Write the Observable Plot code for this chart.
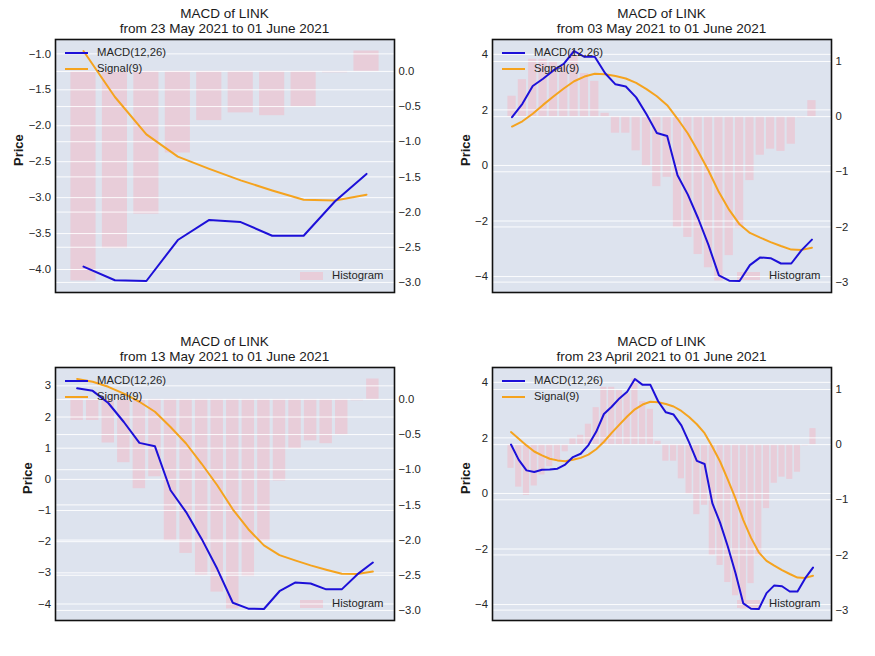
<!DOCTYPE html>
<html><head><meta charset="utf-8">
<script src="https://cdn.jsdelivr.net/npm/d3@7"></script>
<script src="https://cdn.jsdelivr.net/npm/@observablehq/plot@0.6"></script>
<style>
body{margin:0;background:#fff;font-family:"Liberation Sans",Arial,sans-serif;}
#root{position:relative;width:875px;height:656px;overflow:hidden;}
.layer{position:absolute;}
.title{position:absolute;width:339px;text-align:center;font-size:13.5px;line-height:15px;color:#1a1a1a;}
.lg{position:absolute;font-size:11.3px;line-height:13px;color:#262626;white-space:nowrap;}
.sw{position:absolute;}
</style></head><body><div id="root"></div>
<script>
const dates = ["2021-04-23","2021-04-24","2021-04-25","2021-04-26","2021-04-27","2021-04-28","2021-04-29","2021-04-30",
  "2021-05-01","2021-05-02","2021-05-03","2021-05-04","2021-05-05","2021-05-06","2021-05-07","2021-05-08","2021-05-09",
  "2021-05-10","2021-05-11","2021-05-12","2021-05-13","2021-05-14","2021-05-15","2021-05-16","2021-05-17","2021-05-18",
  "2021-05-19","2021-05-20","2021-05-21","2021-05-22","2021-05-23","2021-05-24","2021-05-25","2021-05-26","2021-05-27",
  "2021-05-28","2021-05-29","2021-05-30","2021-05-31","2021-06-01"];
const macd = [1.76,1.21,0.83,0.77,0.85,0.86,0.89,1.04,1.31,1.43,
  1.74,2.22,2.86,3.12,3.42,3.66,4.12,3.91,3.91,3.32,
  2.92,2.84,2.45,1.84,1.17,1.06,-0.35,-1.05,-1.91,-2.87,
  -3.96,-4.15,-4.16,-3.59,-3.31,-3.34,-3.53,-3.53,-3.05,-2.67];
const signal = [2.21,1.97,1.73,1.51,1.37,1.25,1.19,1.16,1.21,1.28,
  1.40,1.59,1.86,2.18,2.48,2.77,3.03,3.20,3.30,3.28,
  3.22,3.13,2.97,2.75,2.49,2.17,1.68,1.15,0.50,-0.19,
  -0.96,-1.60,-2.12,-2.43,-2.60,-2.76,-2.90,-3.03,-3.04,-2.96];
const hist = [-0.43,-0.77,-0.92,-0.75,-0.55,-0.40,-0.29,-0.13,0.11,0.17,
  0.37,0.67,1.04,1.04,0.98,0.92,1.19,0.78,0.64,0.06,
  -0.30,-0.30,-0.62,-0.90,-1.27,-1.10,-2.01,-2.19,-2.50,-2.74,
  -2.98,-2.52,-2.03,-1.16,-0.70,-0.59,-0.63,-0.50,-0.02,0.29];

const panelStarts = ["2021-05-23","2021-05-03","2021-05-13","2021-04-23"];
const panelSubtitles = ["from 23 May 2021 to 01 June 2021","from 03 May 2021 to 01 June 2021",
  "from 13 May 2021 to 01 June 2021","from 23 April 2021 to 01 June 2021"];
const leftTicks = [[-1,-1.5,-2,-2.5,-3,-3.5,-4],[4,2,0,-2,-4],[3,2,1,0,-1,-2,-3,-4],[4,2,0,-2,-4]];
const rightTicks = [[0,-0.5,-1,-1.5,-2,-2.5,-3],[1,0,-1,-2,-3],[0,-0.5,-1,-1.5,-2,-2.5,-3],[1,0,-1,-2,-3]];
const leftFormats = [".1f","d","d","d"];
const rightFormats = [".1f","d",".1f","d"];
const priceOffsets = [37,27,28,27];

const BG = "#DDE3EE", BAR = "#E8CDD9", BLUE = "#1d10d8", ORANGE = "#F5A31E";
const W = 437, H = 328, M = {marginTop:39, marginRight:43, marginBottom:36, marginLeft:55};
const DAY = 864e5;
const pad = (lo, hi) => { const p = (hi - lo) * 0.05; return [lo - p, hi + p]; };

const all = dates.map((d, i) => ({date: new Date(d), macd: macd[i], signal: signal[i], hist: hist[i]}));
const root = document.getElementById("root");

function add(el, left, top) { el.classList.add("layer"); el.style.left = left + "px"; el.style.top = top + "px"; root.appendChild(el); }
function div(cls, left, top, html, extra) {
  const d = document.createElement("div"); d.className = cls; d.style.left = left + "px"; d.style.top = top + "px";
  if (html) d.textContent = html; if (extra) Object.assign(d.style, extra); root.appendChild(d); return d;
}

panelStarts.forEach((start, i) => {
  const px = (i % 2) * W, py = Math.floor(i / 2) * H;
  const rows = all.filter(r => r.date >= new Date(start));
  const xd = pad(+rows[0].date - 0.4 * DAY, +rows[rows.length - 1].date + 0.4 * DAY).map(t => new Date(t));
  const yL = pad(d3.min(rows, r => Math.min(r.macd, r.signal)), d3.max(rows, r => Math.max(r.macd, r.signal)));
  const yR = pad(Math.min(0, d3.min(rows, r => r.hist)), Math.max(0, d3.max(rows, r => r.hist)));
  const common = {width: W, height: H, ...M, x: {type: "utc", domain: xd, axis: null}};
  const style = {background: "transparent", fontFamily: "Liberation Sans, Arial, sans-serif", fontSize: "11.3px", overflow: "visible"};

  const back = Plot.plot({
    ...common, style,
    y: {domain: yR, axis: null},
    marks: [
      Plot.frame({fill: BG, stroke: "none"}),
      Plot.rect(rows, {x1: r => new Date(+r.date - 0.4 * DAY), x2: r => new Date(+r.date + 0.4 * DAY), y1: () => 0, y2: "hist", fill: BAR}),
      Plot.gridY(rightTicks[i], {stroke: "white", strokeOpacity: 0.9, strokeWidth: 1}),
      Plot.axisY(rightTicks[i], {anchor: "right", tickSize: 0, tickPadding: 4, tickFormat: d3.format(rightFormats[i]), fill: "#262626", fontSize: 11.3, label: null})
    ]
  });
  add(back, px, py);
  // histogram legend patch sits under the lines
  div("sw", px + 300, py + 272, null, {width: "23px", height: "8px", background: BAR});

  const front = Plot.plot({
    ...common, style,
    y: {domain: yL, axis: null},
    marks: [
      Plot.gridY(leftTicks[i], {stroke: "white", strokeOpacity: 0.9, strokeWidth: 1}),
      Plot.line(rows, {x: "date", y: "signal", stroke: ORANGE, strokeWidth: 2}),
      Plot.line(rows, {x: "date", y: "macd", stroke: BLUE, strokeWidth: 2}),
      Plot.frame({stroke: "#111", strokeWidth: 1.6}),
      Plot.axisY(leftTicks[i], {anchor: "left", tickSize: 0, tickPadding: 4.5, tickFormat: d3.format(leftFormats[i]), fill: "#262626", fontSize: 11.3, label: null}),
      Plot.text(["Price"], {frameAnchor: "left", dx: -priceOffsets[i], rotate: -90, fontWeight: "bold", fontSize: 13, fill: "#1a1a1a"})
    ]
  });
  add(front, px, py);

  // legends on top
  div("sw", px + 65, py + 52, null, {width: "23px", height: "2px", background: BLUE});
  div("lg", px + 97, py + 46, "MACD(12,26)");
  div("sw", px + 65, py + 68, null, {width: "23px", height: "2px", background: ORANGE});
  div("lg", px + 97, py + 62, "Signal(9)");
  div("lg", px + 332, py + 269, "Histogram");

  const t = div("title", px + 55, py + 6, null);
  t.innerHTML = "MACD of LINK<br>" + panelSubtitles[i];
});
</script></body></html>
